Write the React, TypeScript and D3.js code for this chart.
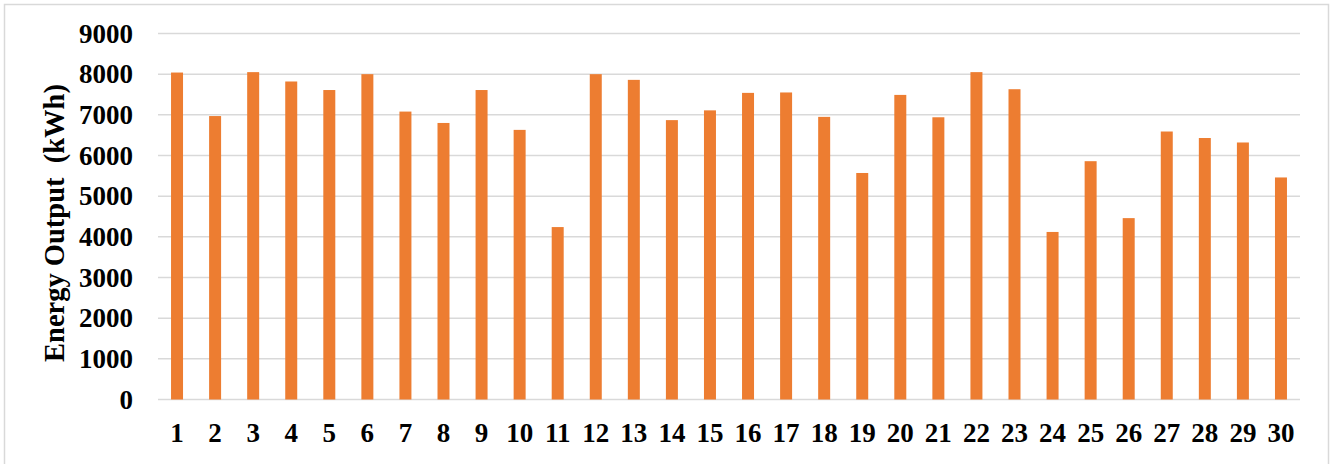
import React from "react";
import * as d3 from "d3";

const categories: string[] = Array.from({ length: 30 }, (_, i) => String(i + 1));
const energyOutput: number[] = [
  8040, 6970, 8050, 7820, 7610, 8000, 7080, 6800, 7610, 6630,
  4240, 8000, 7860, 6870, 7110, 7540, 7550, 6950, 5570, 7490,
  6940, 8050, 7630, 4120, 5860, 4460, 6590, 6430, 6320, 5460,
];
const yTicks: number[] = [0, 1000, 2000, 3000, 4000, 5000, 6000, 7000, 8000, 9000];
const yLabel = "Energy Output  (kWh)";

const W = 1331;
const H = 464;
const plot = { left: 158, right: 1300, top: 33.5, bottom: 399.5 };
const font = "'Liberation Serif', 'Times New Roman', serif";

export default function App() {
  const x = d3
    .scaleBand<string>()
    .domain(categories)
    .range([plot.left, plot.right])
    .paddingInner(0.685)
    .paddingOuter(0.3425);
  const y = d3.scaleLinear().domain([0, 9000]).range([plot.bottom, plot.top]);

  return (
    <svg
      width={W}
      height={H}
      style={{ position: "absolute", left: 0, top: 0, background: "#fff" }}
    >
      <rect x={4.5} y={4.5} width={1324} height={470} fill="#fff" stroke="#d9d9d9" strokeWidth={1.5} />
      {yTicks.map((t) => (
        <line
          key={"g" + t}
          x1={plot.left}
          x2={plot.right}
          y1={y(t)}
          y2={y(t)}
          stroke="#d9d9d9"
          strokeWidth={1.5}
        />
      ))}
      {energyOutput.map((v, i) => (
        <rect
          key={"b" + i}
          x={x(categories[i])}
          y={y(v)}
          width={x.bandwidth()}
          height={y(0) - y(v)}
          fill="#ED7D31"
        />
      ))}
      {yTicks.map((t) => (
        <text
          key={"t" + t}
          x={133}
          y={y(t)}
          dy="0.34em"
          textAnchor="end"
          fontFamily={font}
          fontWeight="bold"
          fontSize={27}
          fill="#000"
        >
          {t}
        </text>
      ))}
      {categories.map((c) => (
        <text
          key={"x" + c}
          x={(x(c) as number) + x.bandwidth() / 2}
          y={441.5}
          textAnchor="middle"
          fontFamily={font}
          fontWeight="bold"
          fontSize={27}
          fill="#000"
        >
          {c}
        </text>
      ))}
      <text
        transform={`translate(64, 223) rotate(-90)`}
        textAnchor="middle"
        fontFamily={font}
        fontWeight="bold"
        fontSize={28.5}
        fill="#000"
        style={{ whiteSpace: "pre" }}
      >
        {yLabel}
      </text>
    </svg>
  );
}
